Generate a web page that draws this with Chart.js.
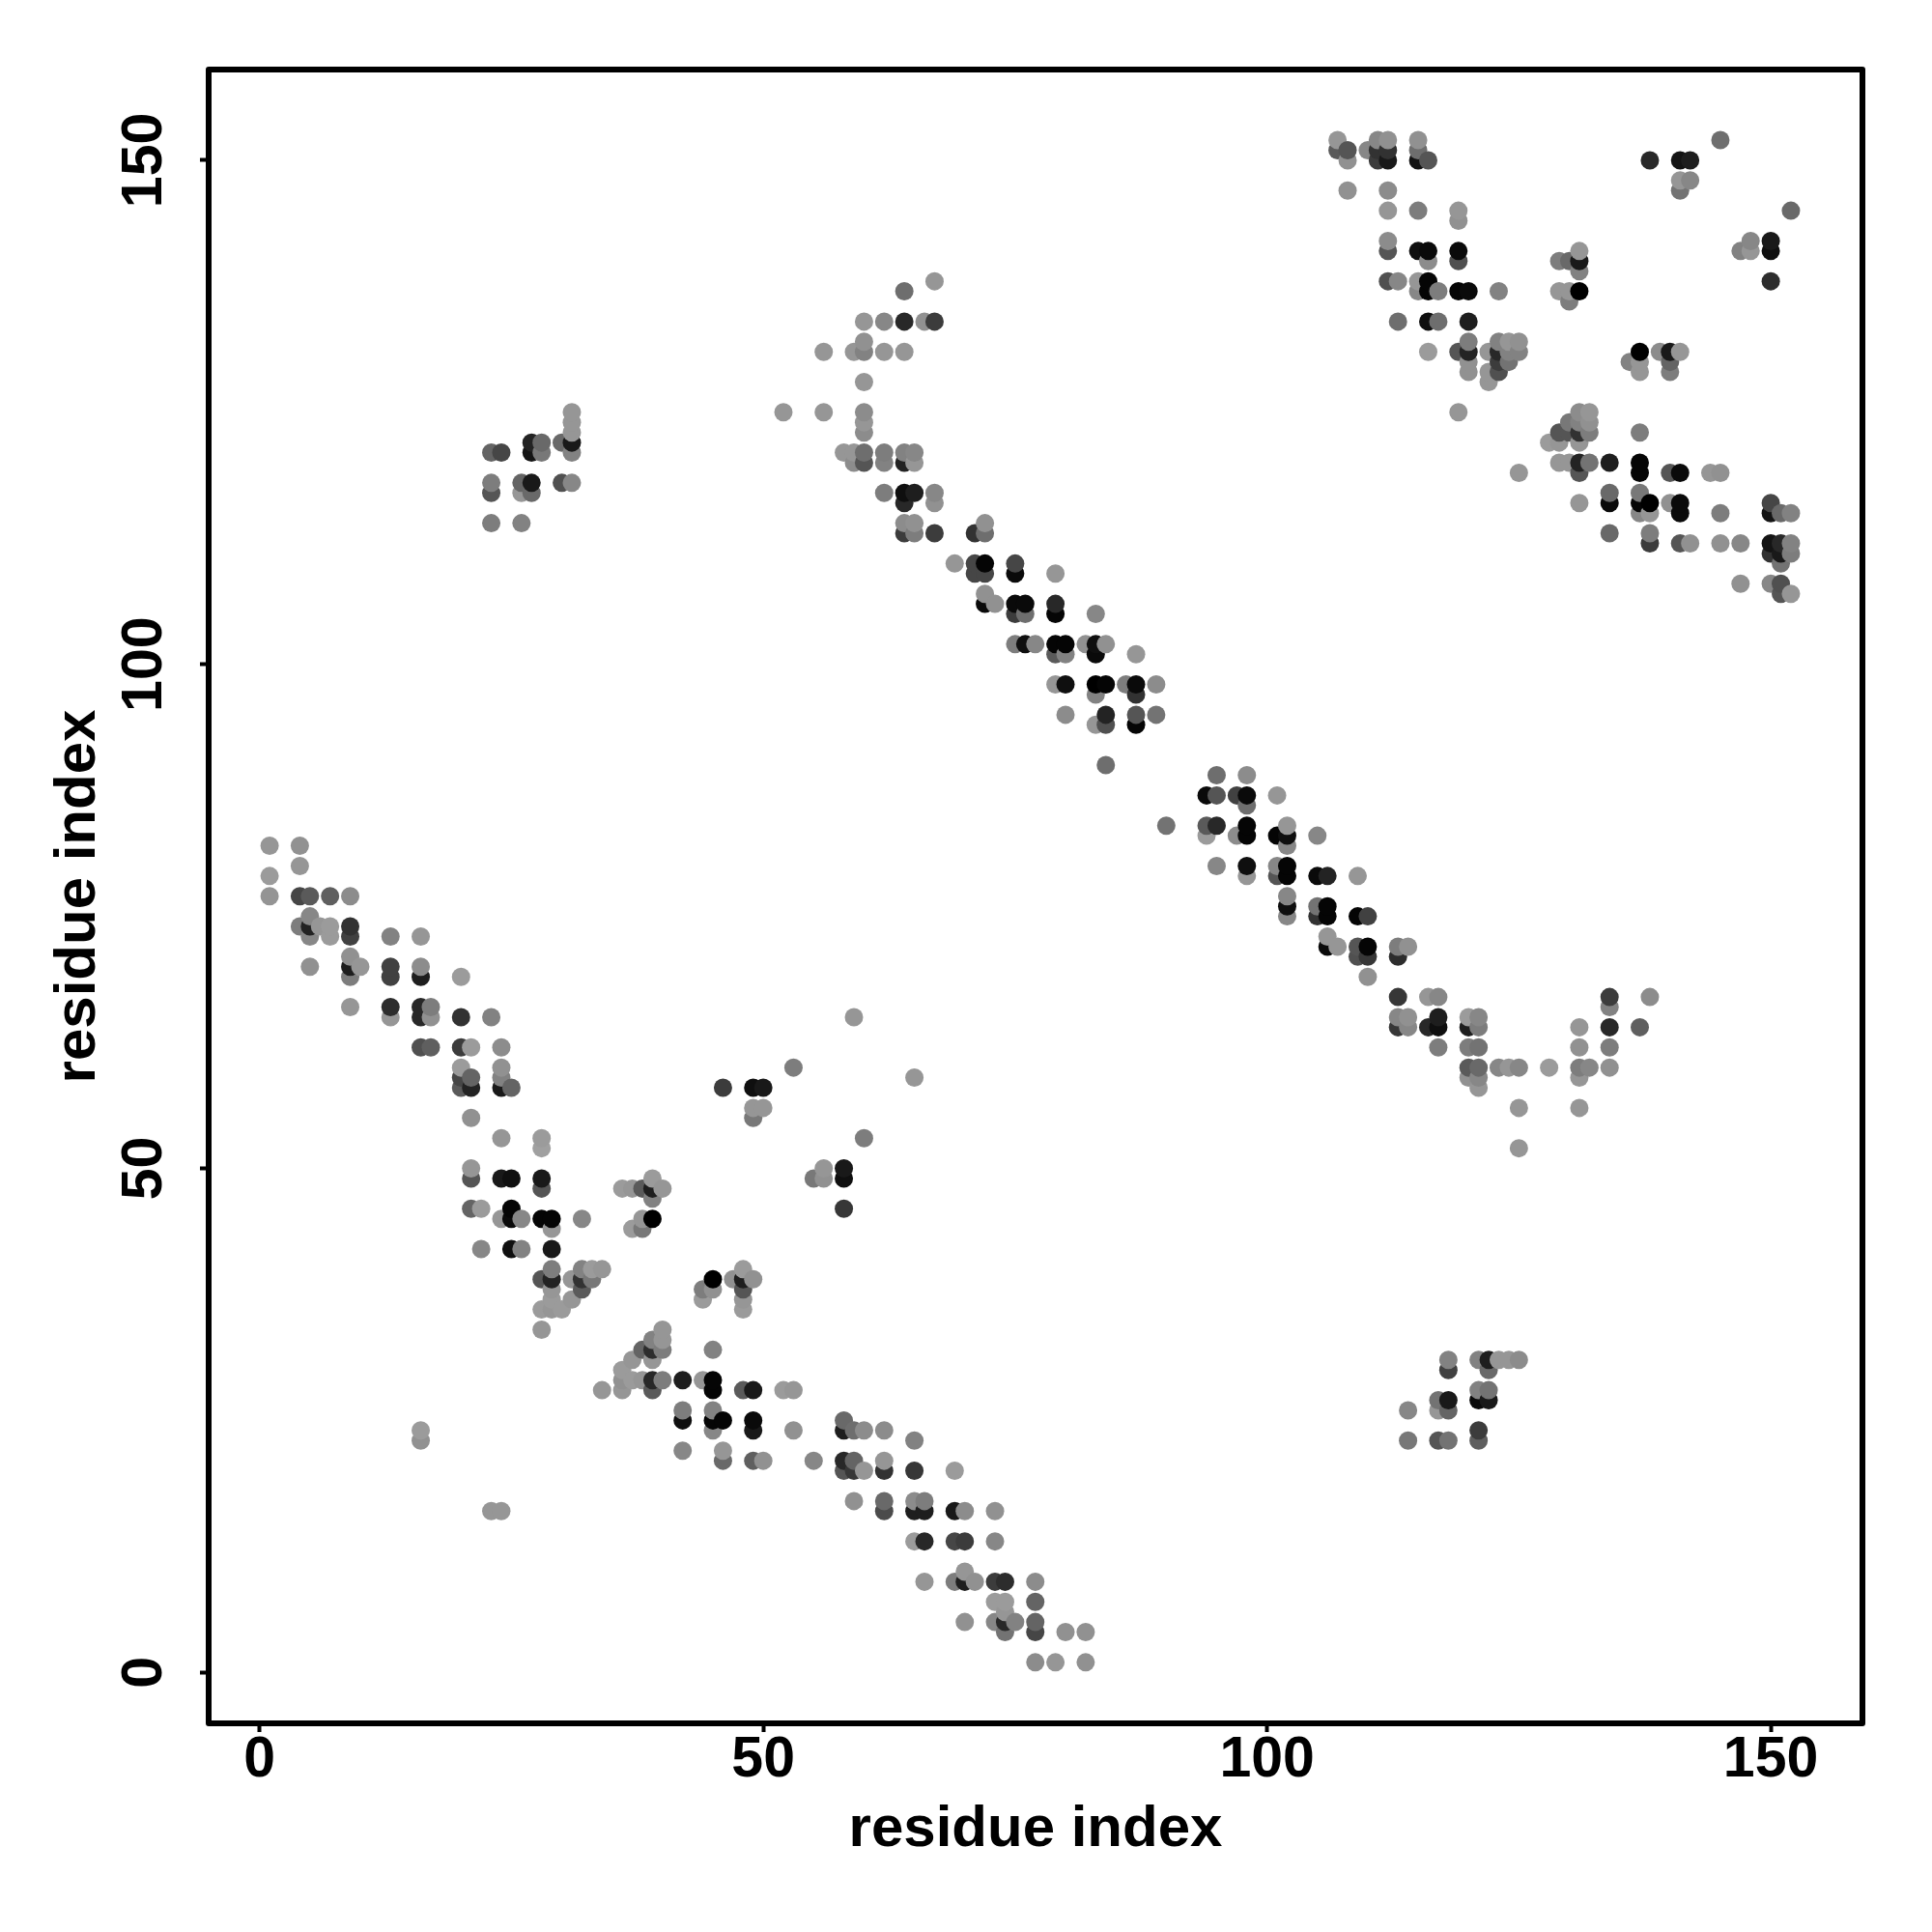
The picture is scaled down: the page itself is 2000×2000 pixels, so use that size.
<!DOCTYPE html>
<html>
<head>
<meta charset="utf-8">
<title>residue contact map</title>
<script src="https://cdn.jsdelivr.net/npm/chart.js@4/dist/chart.umd.min.js"></script>
<style>
    html, body { margin: 0; padding: 0; background: #fff; }
    canvas { display: block; }
</style>
</head>
<body>
<canvas id="contactMap" width="2000" height="2000"></canvas>
<script>
// Achsen
const axisTicks = [0, 50, 100, 150];
const axisLabel = 'residue index';

// Kontakte: Residue i, Residue j, Grauwert (eine Zeile = ein Abschnitt des Bildes)
const residueI = [
    1,4,4,1,1,4,5,7,9,4,5,5,5,6,7,7,9,9,13,16,
    9,10,9,9,5,13,13,16,16,20,9,13,13,16,16,17,17,20,23,
    16,17,20,21,24,20,21,20,20,21,24,24,24,25,21,24,28,28,
    21,21,24,25,28,28,36,37,38,39,39,39,40,
    21,22,24,25,25,26,28,29,29,32,38,39,37,38,22,25,26,29,
    28,29,29,29,29,28,29,30,31,31,32,32,32,33,33,34,28,
    45,47,48,48,49,48,48,48,44,45,44,
    40,40,39,38,39,40,39,37,36,36,37,38,39,40,39,36,34,42,44,45,45,45,48,49,52,53,
    42,42,45,45,46,45,49,49,53,58,58,59,60,62,65,
    42,46,46,49,50,55,58,59,58,59,60,62,62,65,69,
    59,62,62,65,66,65,66,69,70,73,23,24,
    65,66,69,70,73,66,69,70,70,71,73,74,77,
    73,74,77,74,70,73,74,75,77,74,77,80,82,77,79,82,16,16,
    59,53,65,46,49,50,49,50,49,60,56,58,55,56,58,58,
    23,24,27,27,28,28,30,31,31,31,31,31,23,23,26,27,26,27,30,31,23,26,
    67,64,60,62,64,66,67,60,56,59,60,62,64,60,52,56,60,60,60,
    58,59,60,59,60,62,62,64,65,64,65,62,64,65,64,67,67,
    64,65,64,65,67,69,71,72,72,71,72,71,72,75,75,79,
    72,72,73,75,76,75,76,79,79,83,75,76,77,79,80,79,80,
    82,83,84,83,87,79,80,83,84,86,87,89,83,87,
    80,84,87,89,83,84,87,84,
    90,95,98,94,95,97,98,98,101,94,95,94,97,98,98,101,102,102,102,105,
    95,98,98,101,102,101,102,105,106,109,102,102,102,105,106,105,106,109,110,
    106,106,107,109,110,109,110,113,114,113,110,113,116,117,113,114,113,114,
    117,116,117,117,120,121,120,121,120,121,120,121,120,121,121,123,124,125,125,125,
    128,131,134,134,134,131,134,131,132,134,131,131,138,137,
    118,118,121,122,122,123,124,125,121,122,121,122,117,118,117,118,114,114,117,118,121,121,
    107,107,108,108,110,111,111,111,112,112,112,115,115,115,116,108,112,112,115,119,119,
    112,112,115,116,116,119,119,112,113,115,116,115,116,117,119,120,123,
    113,116,117,120,116,119,120,120,120,120,122,123,124,125,123,124,125,122,123,124,123,122,119,
    145,138,141,142,141,142,141,152,147,148,148,150,150,150,
    129,130,131,131,131,129,130,131,130,137,136,137,137,139,140,141,140,140,
    131,132,130,131,132,129,130,131,132,128,129,131,137,
    129,130,131,132,134,137,131,137,140,141,144,145,125,134,137,134,137,138,140,141,141,137,138,131,145,
    150,150,151,152,134,138,138,141,142,145,147,150,151,152,150,151,152,151,147,150,151,151,152
];
const residueJ = [
    82,82,80,79,77,77,77,77,77,74,75,74,73,74,74,73,74,73,73,73,
    71,70,70,69,70,70,69,70,69,69,66,66,65,66,65,66,65,65,65,
    62,62,62,62,62,60,59,59,58,58,60,59,58,58,55,53,53,52,
    50,49,49,49,49,48,48,48,48,49,48,47,48,
    46,46,45,46,45,45,45,45,44,45,45,45,44,44,42,42,42,42,
    39,40,39,38,37,36,36,36,37,39,40,39,38,40,39,40,34,
    39,39,40,39,39,38,37,36,38,38,37,
    34,33,33,32,32,32,31,31,30,29,29,29,29,29,28,28,28,29,29,29,28,32,28,28,28,28,
    26,25,26,25,25,24,25,24,24,25,24,24,24,24,23,
    22,22,21,21,21,21,21,21,20,20,20,21,20,20,20,
    17,17,16,17,17,16,16,16,16,16,16,16,
    13,13,13,13,13,9,9,10,9,9,9,9,9,
    7,7,7,6,5,5,5,5,5,4,4,4,4,1,1,1,24,23,
    65,60,59,58,58,58,56,56,55,53,50,50,49,49,49,46,
    121,121,122,121,122,121,122,125,124,123,122,121,118,117,118,118,117,117,118,118,114,114,
    138,137,134,134,134,134,134,132,131,131,131,131,131,128,125,125,125,124,123,
    121,121,121,120,120,121,120,121,121,120,120,117,117,117,116,117,116,
    114,114,113,113,113,110,113,114,113,110,110,109,109,110,109,109,
    107,106,106,106,106,105,105,106,105,105,102,102,102,102,102,101,101,
    102,102,102,101,101,98,98,98,98,98,98,98,97,97,
    95,95,95,95,94,94,94,90,
    84,89,89,87,87,87,87,86,87,84,84,83,83,84,83,83,84,83,82,83,
    80,80,79,80,80,79,79,79,79,79,77,76,75,76,76,75,75,75,75,
    73,72,72,72,72,71,71,72,72,71,69,67,67,67,65,65,64,64,
    65,64,64,62,65,65,64,64,62,62,60,60,59,59,58,60,60,60,56,52,
    60,64,67,66,64,62,62,60,60,60,59,56,67,64,
    31,30,31,31,30,31,31,31,28,28,27,27,27,27,26,26,26,23,23,23,24,23,
    152,151,151,150,151,152,151,150,152,151,150,152,151,150,150,147,147,145,145,145,144,
    142,141,141,141,140,141,140,138,138,138,138,137,137,137,137,137,137,
    134,134,134,134,131,131,132,131,130,129,131,132,132,132,131,131,131,129,130,130,129,128,125,
    152,150,150,150,148,148,147,145,141,142,141,142,141,138,
    140,140,141,140,139,137,137,137,136,131,130,130,129,131,131,131,130,129,
    125,125,124,124,124,123,123,123,123,122,122,122,123,
    120,120,120,120,120,120,119,119,119,119,119,119,119,117,117,116,116,116,116,116,115,115,115,116,115,
    116,115,115,115,113,113,112,112,112,112,112,112,112,112,111,111,111,110,108,108,108,107,107
];
const contactShade = [
    150,145,150,155,148,70,90,95,140,125,135,35,135,150,155,155,50,65,130,150,
    145,150,30,125,145,65,65,140,30,155,150,45,150,40,40,125,145,50,130,
    80,95,60,155,140,155,100,70,90,35,145,130,25,100,145,150,155,160,
    150,85,25,15,25,85,155,150,90,155,30,130,150,
    100,155,150,5,10,135,5,5,150,135,150,0,155,120,135,15,130,25,
    85,125,35,150,155,155,150,155,150,150,130,50,90,155,120,150,150,
    0,145,155,30,145,85,150,155,125,145,155,
    150,150,130,100,45,125,150,150,155,145,155,150,40,125,90,150,150,30,150,5,5,130,90,25,155,150,
    125,15,130,5,5,135,10,25,145,105,30,110,140,140,130,
    135,150,105,95,145,135,40,100,85,55,150,150,50,55,155,
    145,105,75,140,125,30,30,25,140,145,150,150,
    155,40,70,60,135,150,125,150,30,145,60,45,140,
    155,155,100,150,145,135,40,130,100,115,70,145,145,140,150,145,155,145,
    150,125,150,60,15,25,150,150,120,125,150,25,120,145,15,55,
    100,70,35,20,105,120,105,150,150,150,25,130,125,85,100,25,150,105,80,135,125,130,
    150,110,150,135,40,145,60,145,150,150,130,150,150,150,150,150,140,150,140,
    150,150,110,140,85,125,130,130,135,35,150,125,15,30,40,135,145,
    140,145,60,125,60,150,50,145,110,70,5,70,70,70,10,150,
    145,10,145,10,10,60,110,40,5,135,125,15,135,5,5,90,130,
    145,15,145,10,150,150,15,0,5,125,10,140,130,50,
    140,35,85,115,150,80,5,110,
    115,110,140,10,85,65,10,110,150,90,40,155,140,5,5,5,150,15,135,135,
    135,15,150,135,5,85,5,10,35,150,135,15,135,115,5,50,5,5,65,
    150,10,150,85,5,80,55,125,145,45,145,55,150,135,135,145,55,135,
    30,40,15,125,155,135,30,125,125,115,90,105,145,135,150,135,150,135,150,150,
    155,150,60,130,40,145,125,125,135,145,150,150,140,95,
    130,65,130,30,105,150,150,140,130,115,10,25,115,25,150,100,135,120,85,115,60,95,
    150,90,85,145,135,135,50,60,145,50,25,145,110,20,85,145,140,150,125,150,145,
    140,85,15,10,140,10,80,80,135,150,5,135,5,125,5,10,130,
    110,15,110,30,155,85,125,35,145,145,150,130,150,145,40,130,130,150,60,115,80,150,150,
    110,40,20,30,150,135,115,105,130,135,150,25,15,45,
    125,105,150,25,130,150,150,0,125,0,130,150,150,140,25,150,100,125,
    140,150,120,130,145,85,85,50,125,155,150,150,125,
    150,150,35,115,30,5,85,5,85,10,150,145,150,105,120,10,5,0,145,10,10,135,150,150,125,
    70,20,105,130,105,125,60,85,145,145,135,20,40,130,50,25,125,115,145,135,80,85,150
];

// Reihenfolge wie im Original: nach i, dann nach j (rechts/oben liegt oben)
const order = residueI.map((_, k) => k)
    .sort((a, b) => residueI[a] - residueI[b] || residueJ[a] - residueJ[b]);
const points = order.map(k => ({ x: residueI[k], y: residueJ[k] }));
const colors = order.map(k => `rgb(${contactShade[k]},${contactShade[k]},${contactShade[k]})`);

const tickFont = { family: '"Liberation Sans", Arial, sans-serif', size: 59, weight: 'bold' };
const titleFont = { family: '"Liberation Sans", Arial, sans-serif', size: 60, weight: 'bold' };

function axisOptions(min, max, extra) {
    return Object.assign({
        type: 'linear',
        min: min,
        max: max,
        afterBuildTicks: scale => {
            scale.ticks = axisTicks.map(v => ({ value: v }));
        },
        grid: { drawOnChartArea: false, drawTicks: true, tickLength: 9, tickWidth: 4, tickColor: '#000' },
        border: { display: false }
    }, extra);
}

// Rahmen um die Zeichenfläche
const framePlugin = {
    id: 'frame',
    afterDatasetsDraw(chart) {
        const { ctx, chartArea } = chart;
        ctx.save();
        ctx.strokeStyle = '#000';
        ctx.lineWidth = 6;
        ctx.lineJoin = 'round';
        ctx.strokeRect(chartArea.left, chartArea.top, chartArea.width, chartArea.height);
        ctx.restore();
    }
};

new Chart(document.getElementById('contactMap').getContext('2d'), {
    type: 'scatter',
    data: {
        datasets: [{
            data: points,
            pointRadius: 9.5,
            pointBorderWidth: 0,
            pointBackgroundColor: colors,
            clip: false
        }]
    },
    options: {
        responsive: false,
        animation: false,
        devicePixelRatio: 1,
        layout: { padding: { top: 72, right: 72, left: 0, bottom: 0 } },
        plugins: { legend: { display: false }, tooltip: { enabled: false } },
        scales: {
            x: axisOptions(-5.05, 159.1, {
                afterFit: scale => { scale.height = 216; },
                ticks: { color: '#000', font: tickFont, padding: -6, autoSkip: false, maxRotation: 0 },
                title: { display: true, text: axisLabel, color: '#000', font: titleFont, padding: { top: 0, bottom: 70 } }
            }),
            y: axisOptions(-5.05, 159.0, {
                afterFit: scale => { scale.width = 216; },
                ticks: { color: '#000', font: tickFont, padding: 7, autoSkip: false, minRotation: 90, maxRotation: 90, crossAlign: 'center' },
                title: { display: true, text: axisLabel, color: '#000', font: titleFont, padding: { top: 45, bottom: 0 } }
            })
        }
    },
    plugins: [framePlugin]
});
</script>
</body>
</html>
